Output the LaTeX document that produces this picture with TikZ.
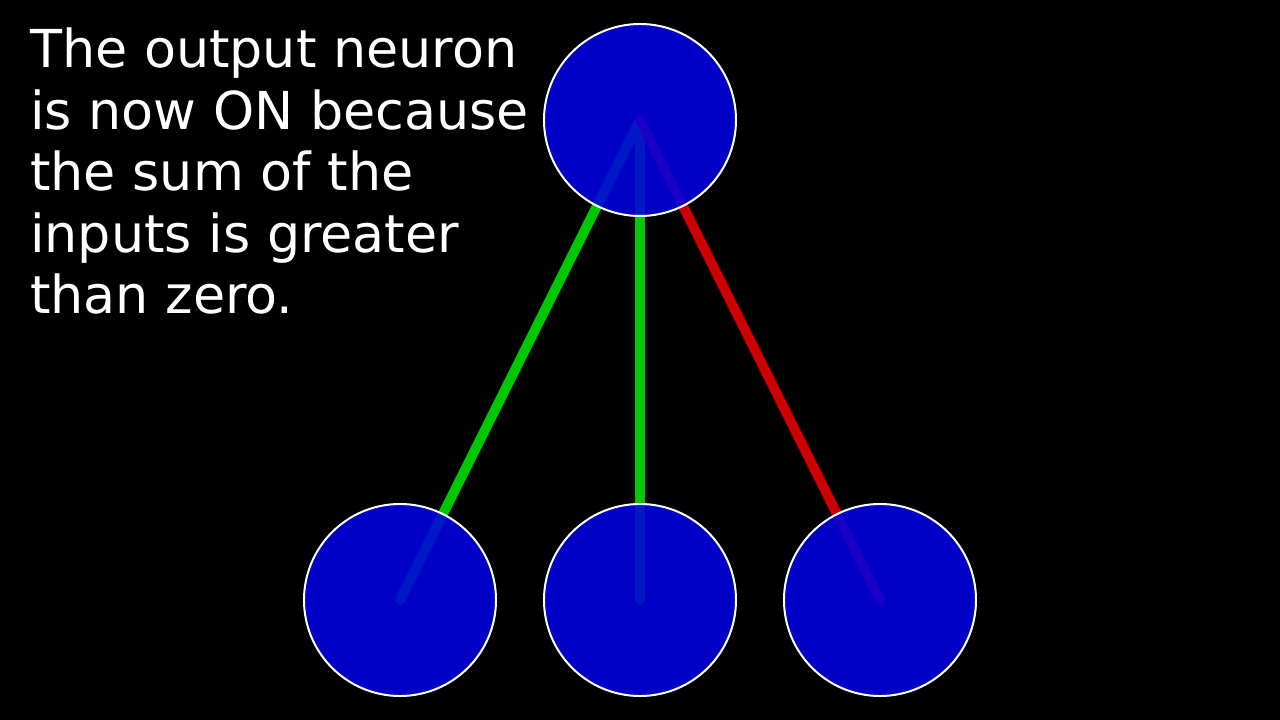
\documentclass[tikz,border=0pt]{standalone}
\usepackage{fontspec}
\setmainfont{DejaVu Sans}
\definecolor{nblue}{RGB}{0,0,228}
\definecolor{ngreen}{RGB}{0,200,0}
\definecolor{nred}{RGB}{204,0,0}
\begin{document}
\begin{tikzpicture}[x=1pt,y=-1pt,
  neuron/.style={circle, minimum size=192pt, inner sep=0pt, draw=white, line width=2pt, fill=nblue, fill opacity=0.87},
  wire/.style={line width=10pt, line cap=round},
  caption/.style={text=white, anchor=north west, align=left, inner sep=0pt, font=\fontsize{52.3}{61.5}\selectfont}]
\fill[black] (0,0) rectangle (1280,720);
\useasboundingbox (0,0) rectangle (1280,720);
\coordinate (c0) at (640,120);
\coordinate (c1) at (400,600);
\coordinate (c2) at (640,600);
\coordinate (c3) at (880,600);
\draw[wire, ngreen] (c1) -- (c0);
\draw[wire, ngreen] (c2) -- (c0);
\draw[wire, nred] (c3) -- (c0);
\node[neuron] (out) at (c0) {};
\node[neuron] (in1) at (c1) {};
\node[neuron] (in2) at (c2) {};
\node[neuron] (in3) at (c3) {};
\node[caption] (txt) at (30,28) {The output neuron\\is now ON because\\the sum of the\\inputs is greater\\than zero.};
\end{tikzpicture}
\end{document}
